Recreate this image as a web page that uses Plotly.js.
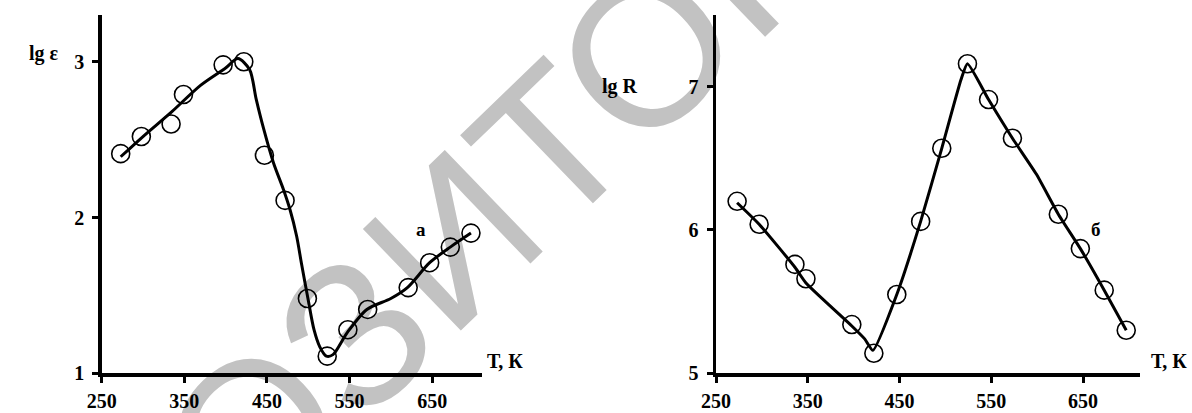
<!DOCTYPE html>
<html>
<head>
<meta charset="utf-8">
<script src="https://cdn.plot.ly/plotly-3.0.1.min.js"></script>
<style>html,body{margin:0;padding:0;background:#fff;}#chart{width:1192px;height:413px;}</style>
</head>
<body>
<div id="chart"></div>
<script>
// Panel а: lg ε vs T
const T_a = [273, 298, 334, 349, 397, 422, 447, 472, 499, 523, 548, 572, 621, 647, 672, 697];
const lgEps = [2.41, 2.52, 2.60, 2.79, 2.98, 3.00, 2.40, 2.11, 1.48, 1.11, 1.28, 1.41, 1.55, 1.71, 1.81, 1.90];
// smoothed curve of panel а
const Tcurve_a = [273, 300, 335, 370, 400, 415, 429, 437, 446, 458, 470, 478, 486, 492, 500, 507, 514, 522, 530, 547, 571, 600, 620, 647, 672, 697];
const lgEpsCurve = [2.39, 2.52, 2.68, 2.85, 2.96, 3.02, 2.95, 2.76, 2.57, 2.35, 2.18, 2.05, 1.88, 1.70, 1.47, 1.28, 1.17, 1.11, 1.12, 1.26, 1.41, 1.48, 1.55, 1.71, 1.81, 1.90];

// Panel б: lg R vs T
const T_b = [273, 297, 336, 348, 398, 422, 447, 473, 496, 524, 547, 573, 623, 647, 673, 697];
const lgR = [6.20, 6.04, 5.76, 5.66, 5.34, 5.14, 5.55, 6.06, 6.57, 7.16, 6.91, 6.64, 6.11, 5.87, 5.58, 5.30];
const Tcurve_b = [273, 297, 336, 348, 398, 412, 421, 447, 473, 496, 517, 524, 547, 573, 599, 623, 647, 673, 697];
const lgRCurve = [6.19, 6.04, 5.74, 5.63, 5.33, 5.24, 5.16, 5.55, 6.06, 6.57, 7.05, 7.16, 6.91, 6.64, 6.39, 6.11, 5.87, 5.58, 5.30];

const xTicks = [250, 350, 450, 550, 650];
const yTicks_a = [1, 2, 3];
const yTicks_b = [5, 6, 7];

const W = 1192, H = 413;
const px = v => v / W;
const py = v => 1 - v / H;
const serif = '"Liberation Serif", "Times New Roman", Times, serif';

const lineStyle = {color: '#000', width: 3};
const markerStyle = {symbol: 'circle-open', size: 18, color: '#000', line: {color: '#000', width: 1.6}};

const traces = [
  {x: Tcurve_a, y: lgEpsCurve, mode: 'lines', line: Object.assign({shape: 'spline', smoothing: 0.8}, lineStyle), xaxis: 'x', yaxis: 'y', hoverinfo: 'skip'},
  {x: T_a, y: lgEps, mode: 'markers', marker: markerStyle, xaxis: 'x', yaxis: 'y'},
  {x: Tcurve_b, y: lgRCurve, mode: 'lines', line: Object.assign({shape: 'spline', smoothing: 0.5}, lineStyle), xaxis: 'x2', yaxis: 'y2', hoverinfo: 'skip'},
  {x: T_b, y: lgR, mode: 'markers', marker: markerStyle, xaxis: 'x2', yaxis: 'y2'}
];

const tickFont = {family: serif, size: 20, color: '#000', weight: 'bold'};
function xAxis(domain, range, anchor) {
  return {domain: domain, range: range, anchor: anchor, tickvals: xTicks, ticktext: xTicks.map(String),
    showline: true, linewidth: 3.5, linecolor: '#000', ticks: 'outside', ticklen: 6, tickwidth: 3, tickcolor: '#000',
    showgrid: false, zeroline: false, tickfont: tickFont, ticklabelstandoff: 1, fixedrange: true};
}
function yAxis(domain, range, anchor, vals) {
  return {domain: domain, range: range, anchor: anchor, tickvals: vals, ticktext: vals.map(String),
    showline: true, linewidth: 3.5, linecolor: '#000', ticks: 'outside', ticklen: 6, tickwidth: 3, tickcolor: '#000',
    showgrid: false, zeroline: false, tickfont: tickFont, ticklabelstandoff: 4, fixedrange: true};
}

const yDom = [py(373.3), py(15)];
const layout = {
  width: W, height: H,
  margin: {l: 0, r: 0, t: 0, b: 0},
  paper_bgcolor: '#fff', plot_bgcolor: 'rgba(0,0,0,0)',
  showlegend: false,
  font: {family: serif},
  xaxis: xAxis([px(101.7), px(481.7)], [250, 710], 'y'),
  yaxis: yAxis(yDom, [1, 3.3], 'x', yTicks_a),
  xaxis2: xAxis([px(716), px(1140)], [250, 712], 'y2'),
  yaxis2: yAxis(yDom, [5, 7.5], 'x2', yTicks_b),
  shapes: [{
    type: 'rect', xref: 'paper', yref: 'paper', layer: 'below',
    x0: px(440) - 0.05, x1: px(440) + 0.05, y0: py(225) - 0.05, y1: py(225) + 0.05,
    line: {width: 0}, fillcolor: 'rgba(0,0,0,0)',
    label: {text: 'РЕПОЗИТОРИЙ', textangle: -44, textposition: 'middle center',
      font: {family: '"Liberation Sans", Arial, sans-serif', size: 205, color: '#c2c2c2'}}
  }],
  annotations: [
    {text: 'lg ε', xref: 'paper', yref: 'paper', x: px(27), y: py(40), showarrow: false, font: {family: serif, size: 20, color: '#000', weight: 'bold'}},
    {text: 'lg R', xref: 'paper', yref: 'paper', x: px(620), y: py(73.5), showarrow: false, font: {family: serif, size: 20, color: '#000', weight: 'bold'}},
    {text: 'а', xref: 'paper', yref: 'paper', x: px(421), y: py(229), showarrow: false, font: {family: serif, size: 19, color: '#000', weight: 'bold'}},
    {text: 'б', xref: 'paper', yref: 'paper', x: px(1103), y: py(229), showarrow: false, font: {family: serif, size: 19, color: '#000', weight: 'bold'}},
    {text: 'Т, К', xref: 'paper', yref: 'paper', x: px(485), y: py(374), xanchor: 'left', showarrow: false, font: {family: serif, size: 20, color: '#000', weight: 'bold'}},
    {text: 'Т, К', xref: 'paper', yref: 'paper', x: px(1149), y: py(374), xanchor: 'left', showarrow: false, font: {family: serif, size: 20, color: '#000', weight: 'bold'}}
  ]
};

Plotly.newPlot('chart', traces, layout, {displayModeBar: false, staticPlot: true});
</script>
</body>
</html>
